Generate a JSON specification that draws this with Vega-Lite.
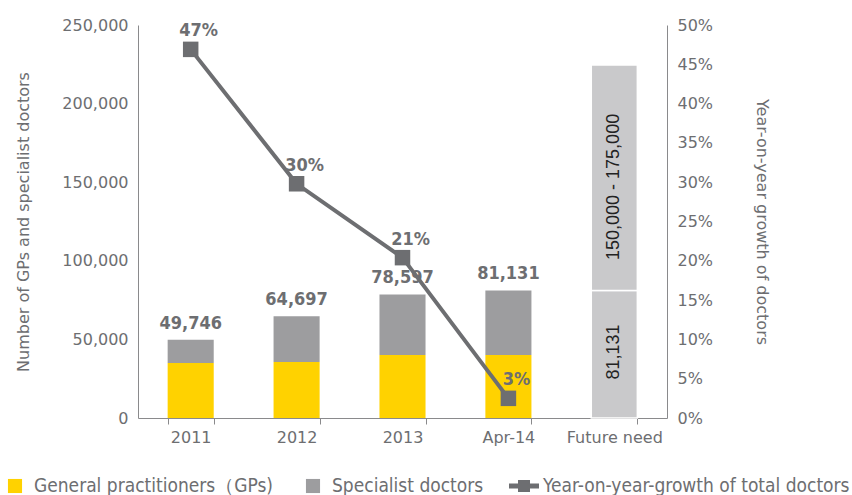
{
  "$schema": "https://vega.github.io/schema/vega-lite/v6.json",
  "width": 529,
  "height": 393,
  "padding": {"left": 0, "top": 17, "right": 5, "bottom": 3},
  "background": "white",
  "config": {
    "view": {"stroke": null},
    "font": "DejaVu Sans",
    "axis": {"labelColor": "#6d6e71", "titleColor": "#6d6e71", "domainColor": "#8a8a8c", "tickColor": "#8a8a8c", "labelFontSize": 16, "titleFontSize": 16, "titleFontWeight": "normal", "grid": false, "labelFont": "DejaVu Sans", "titleFont": "DejaVu Sans"}
  },
  "layer": [
    {
      "layer": [
        {
          "data": {"values": [
            {"cat": "2011", "type": "General practitioners（GPs)", "seg": 1, "value": 35000},
            {"cat": "2011", "type": "Specialist doctors", "seg": 2, "value": 14746},
            {"cat": "2012", "type": "General practitioners（GPs)", "seg": 1, "value": 35600},
            {"cat": "2012", "type": "Specialist doctors", "seg": 2, "value": 29097},
            {"cat": "2013", "type": "General practitioners（GPs)", "seg": 1, "value": 40000},
            {"cat": "2013", "type": "Specialist doctors", "seg": 2, "value": 38597},
            {"cat": "Apr-14", "type": "General practitioners（GPs)", "seg": 1, "value": 40000},
            {"cat": "Apr-14", "type": "Specialist doctors", "seg": 2, "value": 41131}
          ]},
          "mark": {"type": "bar"},
          "encoding": {
            "x": {"field": "cat", "type": "nominal", "sort": ["2011", "2012", "2013", "Apr-14", "Future need"],
              "scale": {"paddingInner": 0.565, "paddingOuter": 0.28},
              "axis": {"title": null, "labelAngle": 0, "tickBand": "extent", "tickSize": 6, "labelPadding": 5, "domainColor": "#8a8a8c"}},
            "y": {"field": "value", "type": "quantitative", "stack": "zero",
              "scale": {"domain": [0, 250000], "nice": false},
              "axis": {"title": "Number of GPs and specialist doctors", "format": ",d", "values": [0, 50000, 100000, 150000, 200000, 250000], "ticks": false, "labelPadding": 10, "titlePadding": 30}},
            "color": {"field": "type", "type": "nominal",
              "scale": {"domain": ["General practitioners（GPs)", "Specialist doctors", "Year-on-year-growth of total doctors", "Future current", "Future additional"],
                        "range": ["#ffd200", "#9d9d9f", "#6d6e71", "#c9c9cb", "#c9c9cb"]},
              "legend": {
                "values": ["General practitioners（GPs)", "Specialist doctors", "Year-on-year-growth of total doctors"],
                "title": null, "orient": "none", "legendX": -138, "legendY": 446, "direction": "horizontal",
                "labelFont": "DejaVu Sans Condensed, Liberation Sans Narrow, Liberation Sans, sans-serif",
                "labelFontSize": 19, "labelColor": "#6d6e71", "labelOffset": 4, "columnPadding": 25, "labelLimit": 500,
                "symbolSize": 900, "symbolStrokeWidth": 0,
                "encode": {"symbols": {"update": {
                  "shape": {"signal": "datum.value === 'Year-on-year-growth of total doctors' ? 'M-1,-0.17H-0.4V-0.4H0.4V-0.17H1V0.17H0.4V0.4H-0.4V0.17H-1Z' : 'M-0.47,-0.47H0.47V0.47H-0.47Z'"},
                  "fill": {"scale": "color", "field": "value"},
                  "opacity": {"value": 1}
                }}}
              }},
            "order": {"field": "seg", "type": "quantitative"}
          }
        },
        {
          "data": {"values": [
            {"cat": "Future need", "type": "Future current", "seg": 1, "value": 81131},
            {"cat": "Future need", "type": "Future additional", "seg": 2, "value": 143423}
          ]},
          "mark": {"type": "bar", "stroke": "white", "strokeWidth": 1.5},
          "encoding": {
            "x": {"field": "cat", "type": "nominal", "sort": ["2011", "2012", "2013", "Apr-14", "Future need"]},
            "y": {"field": "value", "type": "quantitative", "stack": "zero"},
            "color": {"field": "type", "type": "nominal"},
            "order": {"field": "seg", "type": "quantitative"}
          }
        },
        {
          "data": {"values": [
            {"cat": "2011", "total": 49746, "label": "49,746"},
            {"cat": "2012", "total": 64697, "label": "64,697"},
            {"cat": "2013", "total": 78597, "label": "78,597"},
            {"cat": "Apr-14", "total": 81131, "label": "81,131"}
          ]},
          "mark": {"type": "text", "baseline": "bottom", "dy": -7, "fontSize": 18, "fontWeight": "bold", "color": "#6d6e71", "font": "DejaVu Sans Condensed, Liberation Sans Narrow, Liberation Sans, sans-serif"},
          "encoding": {
            "x": {"field": "cat", "type": "nominal", "sort": ["2011", "2012", "2013", "Apr-14", "Future need"]},
            "y": {"field": "total", "type": "quantitative"},
            "text": {"field": "label"}
          }
        },
        {
          "data": {"values": [
            {"cat": "Future need", "mid": 42000, "label": "81,131"},
            {"cat": "Future need", "mid": 147000, "label": "150,000 - 175,000"}
          ]},
          "mark": {"type": "text", "angle": 270, "baseline": "middle", "align": "center", "fontSize": 18, "color": "#222222", "font": "Liberation Sans"},
          "encoding": {
            "x": {"field": "cat", "type": "nominal", "sort": ["2011", "2012", "2013", "Apr-14", "Future need"]},
            "y": {"field": "mid", "type": "quantitative"},
            "text": {"field": "label"}
          }
        }
      ]
    },
    {
      "data": {"values": [
        {"cat": "2011", "growth": 0.469, "label": "47%", "series": "Year-on-year-growth of total doctors"},
        {"cat": "2012", "growth": 0.298, "label": "30%", "series": "Year-on-year-growth of total doctors"},
        {"cat": "2013", "growth": 0.204, "label": "21%", "series": "Year-on-year-growth of total doctors"},
        {"cat": "Apr-14", "growth": 0.025, "label": "3%", "series": "Year-on-year-growth of total doctors"}
      ]},
      "encoding": {
        "x": {"field": "cat", "type": "nominal", "sort": ["2011", "2012", "2013", "Apr-14", "Future need"]},
        "y": {"field": "growth", "type": "quantitative",
          "scale": {"domain": [0, 0.5], "nice": false},
          "axis": {"orient": "right", "title": "Year-on-year growth of doctors", "format": ".0%", "values": [0, 0.05, 0.1, 0.15, 0.2, 0.25, 0.3, 0.35, 0.4, 0.45, 0.5], "ticks": false, "labelPadding": 10, "titlePadding": 41}}
      },
      "layer": [
        {
          "mark": {"type": "line", "strokeWidth": 4},
          "encoding": {"color": {"field": "series", "type": "nominal"}}
        },
        {
          "mark": {"type": "point", "shape": "square", "size": 240, "filled": true, "opacity": 1},
          "encoding": {"color": {"field": "series", "type": "nominal"}}
        },
        {
          "mark": {"type": "text", "baseline": "bottom", "align": "center", "dx": 8, "dy": -9, "fontSize": 18, "fontWeight": "bold", "color": "#6d6e71", "font": "DejaVu Sans Condensed, Liberation Sans Narrow, Liberation Sans, sans-serif"},
          "encoding": {"text": {"field": "label"}}
        }
      ]
    }
  ],
  "resolve": {"scale": {"y": "independent"}}
}
